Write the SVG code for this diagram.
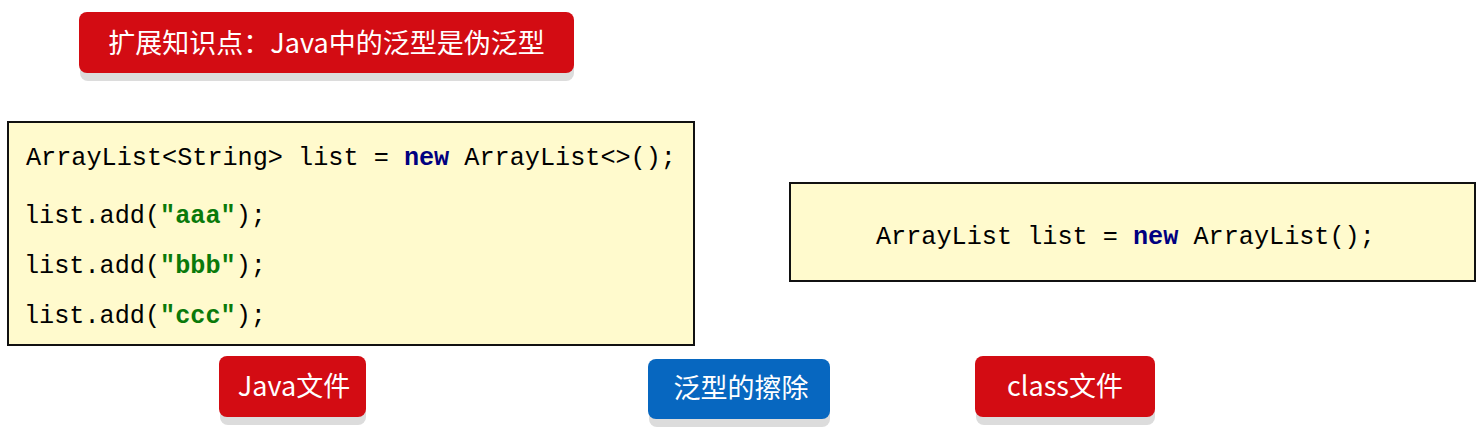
<svg xmlns="http://www.w3.org/2000/svg" width="1482" height="431" viewBox="0 0 1482 431">
<style>
.code{font-family:"Liberation Mono","DejaVu Sans Mono",monospace;font-size:25.2px;fill:#000}
.kw{fill:#000080;font-weight:bold}
.str{fill:#0a7a0a;font-weight:bold}
.codebox{fill:#fffacd;stroke:#111;stroke-width:2}
.lbl{font-family:"Noto Sans CJK SC","Noto Sans",sans-serif;font-size:27px;fill:#fff;text-anchor:middle}
.red{fill:#d30c13}
.blue{fill:#0767c0}
.shadow{fill:#dcdcdc}
</style>
<rect width="1482" height="431" fill="#fff"/>
<g id="title">
<rect class="shadow" x="80" y="20" width="494" height="61" rx="8"/>
<rect class="red" x="79" y="12" width="495" height="61" rx="8"/>
<text class="lbl" x="326.5" y="53" font-size="27.5">扩展知识点：Java中的泛型是伪泛型</text>
</g>
<g id="java-code">
<rect class="codebox" x="8" y="122" width="686" height="223"/>
<text class="code" x="26" y="165">ArrayList&lt;String&gt; list = <tspan class="kw">new</tspan> ArrayList&lt;&gt;();</text>
<text class="code" x="24" y="223">list.add(<tspan class="str">"aaa"</tspan>);</text>
<text class="code" x="24" y="273">list.add(<tspan class="str">"bbb"</tspan>);</text>
<text class="code" x="24" y="323">list.add(<tspan class="str">"ccc"</tspan>);</text>
</g>
<g id="class-code">
<rect class="codebox" x="790" y="183" width="685" height="98"/>
<text class="code" x="876" y="244">ArrayList list = <tspan class="kw">new</tspan> ArrayList();</text>
</g>
<g id="java-file">
<rect class="shadow" x="220" y="364" width="146" height="61" rx="8"/>
<rect class="red" x="219" y="356" width="147" height="61" rx="8"/>
<text class="lbl" x="294" y="396">Java文件</text>
</g>
<g id="erasure">
<rect class="shadow" x="649" y="367" width="181" height="60" rx="8"/>
<rect class="blue" x="648" y="359" width="182" height="60" rx="8"/>
<text class="lbl" x="741" y="398">泛型的擦除</text>
</g>
<g id="class-file">
<rect class="shadow" x="976" y="364" width="179" height="61" rx="8"/>
<rect class="red" x="975" y="356" width="180" height="61" rx="8"/>
<text class="lbl" x="1065" y="396">class文件</text>
</g>
</svg>
